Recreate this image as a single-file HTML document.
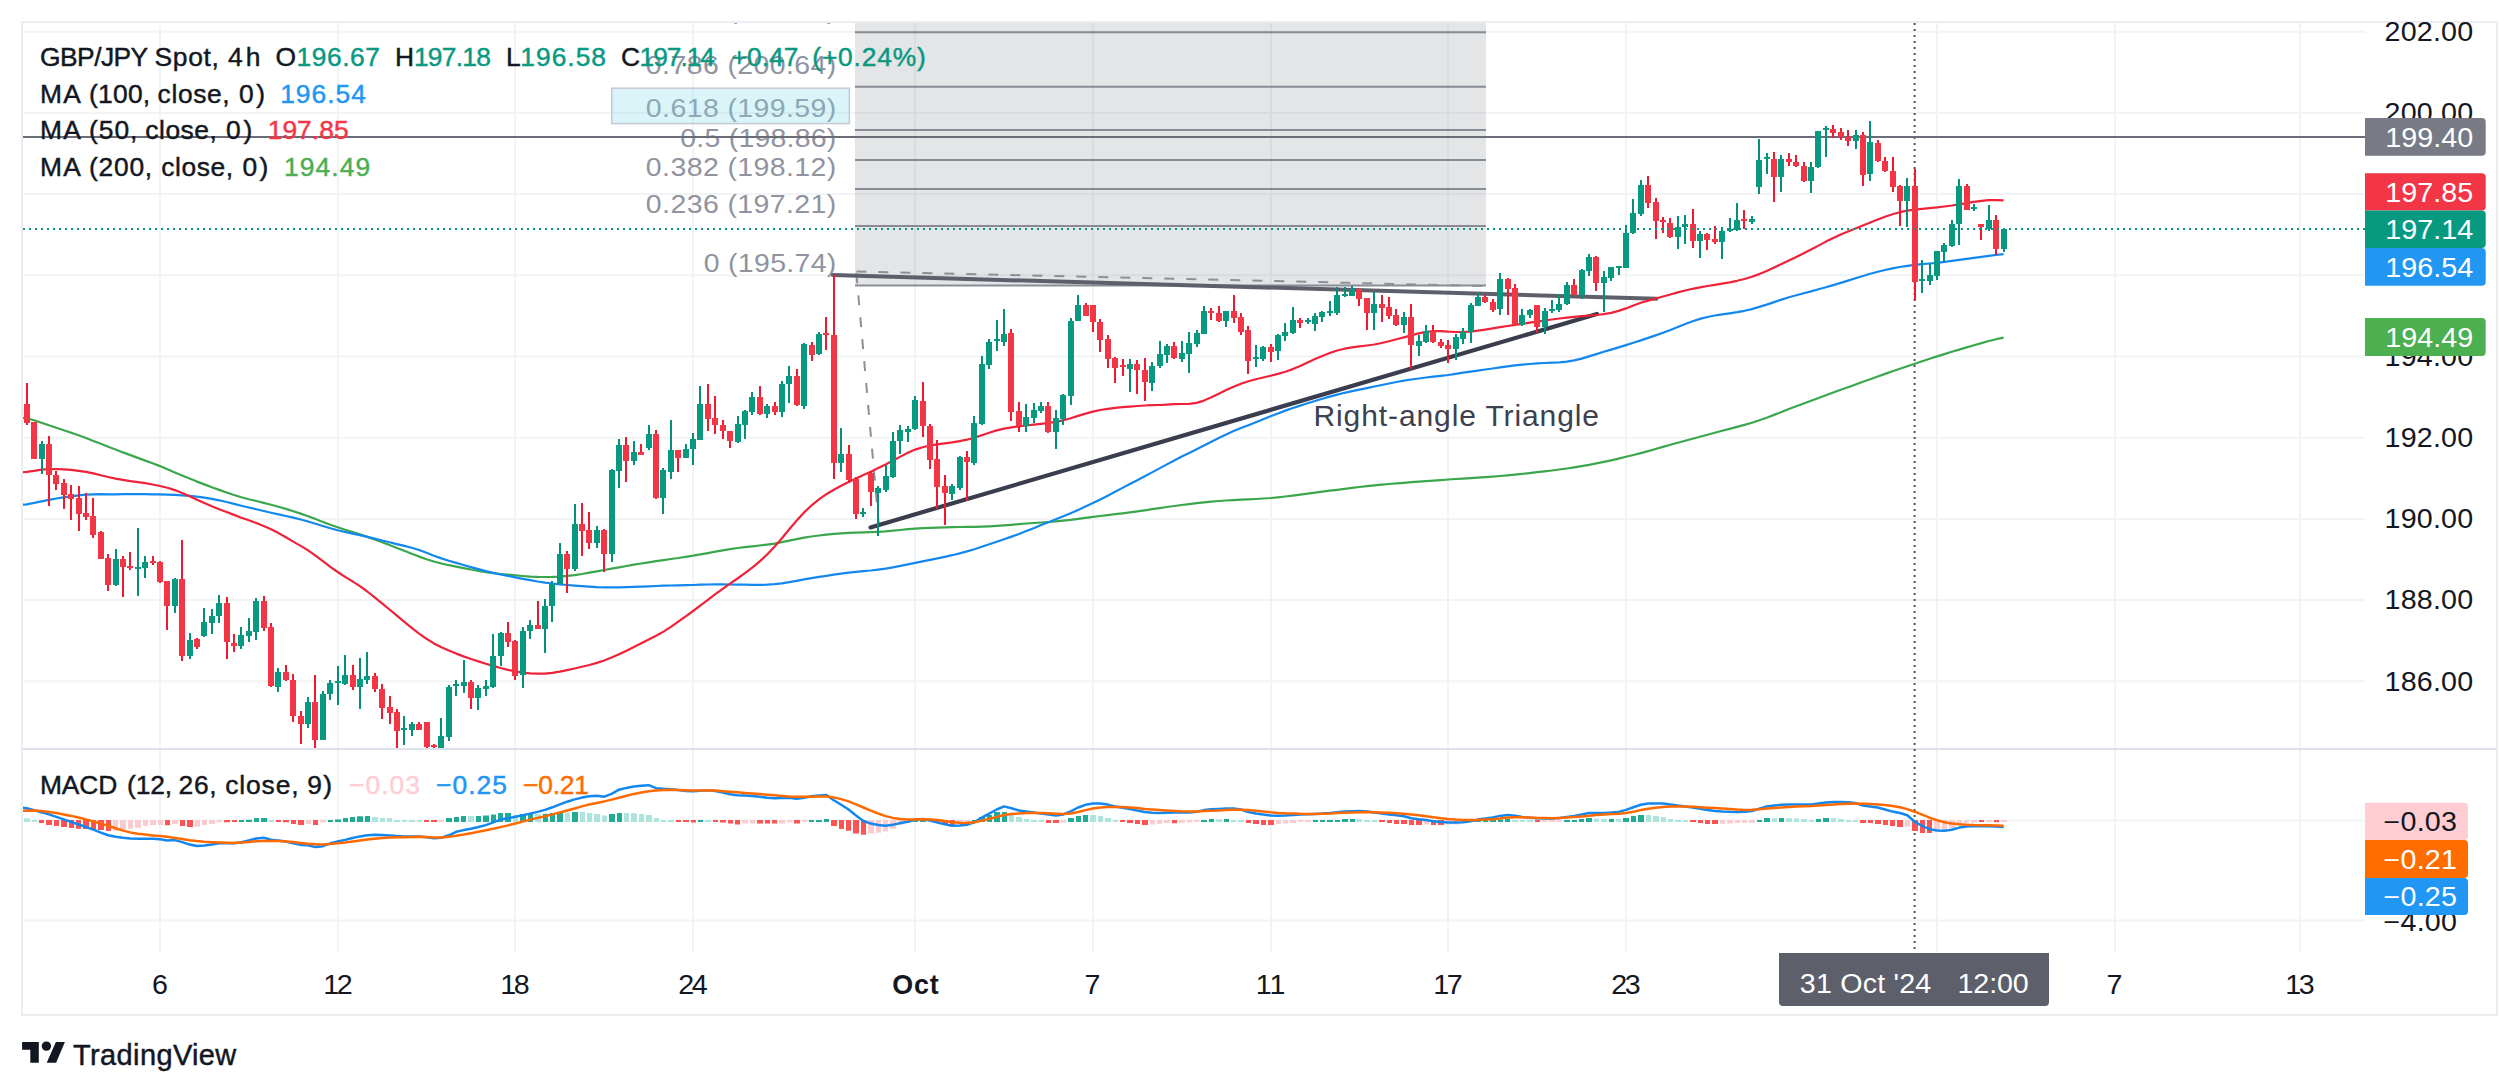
<!DOCTYPE html><html><head><meta charset="utf-8"><title>GBP/JPY 4h chart</title><style>html,body{margin:0;padding:0;background:#fff;overflow:hidden}svg{display:block}</style></head><body><svg width="2519" height="1092" viewBox="0 0 2519 1092" font-family='"Liberation Sans", Arial, sans-serif'>
<defs><clipPath id="main"><rect x="23" y="23" width="2342" height="725"/></clipPath><clipPath id="mainw"><rect x="23" y="23" width="2473" height="725"/></clipPath><clipPath id="macd"><rect x="23" y="750" width="2342" height="202"/></clipPath></defs>
<rect width="2519" height="1092" fill="#fff"/>
<path fill="#f2f3f4" d="M159.0 23h2V952h-2zM337.0 23h2V952h-2zM514.0 23h2V952h-2zM692.0 23h2V952h-2zM914.0 23h2V952h-2zM1092.0 23h2V952h-2zM1270.0 23h2V952h-2zM1447.0 23h2V952h-2zM1625.0 23h2V952h-2zM1936.0 23h2V952h-2zM2114.0 23h2V952h-2zM2299.0 23h2V952h-2zM23 30.7H2365v2H23zM23 111.9H2365v2H23zM23 193.1H2365v2H23zM23 274.3H2365v2H23zM23 355.5H2365v2H23zM23 436.7H2365v2H23zM23 517.9H2365v2H23zM23 599.1H2365v2H23zM23 680.3H2365v2H23zM23 819.6H2365v2H23zM23 919.6H2365v2H23z"/>
<path fill="#ecedf2" d="M21 21H2498V1016H21zM23 23V1014H2496V23z" fill-rule="evenodd"/>
<rect x="23" y="748" width="2473" height="2" fill="#dee1eb"/>
<path d="M1914.6 23V952" stroke="#4f525d" stroke-width="2" stroke-dasharray="2 4" fill="none"/>
<g clip-path="url(#main)">
<rect x="855" y="0" width="631" height="285.6" fill="#787b86" fill-opacity="0.2"/>
<path fill="#787b86" fill-opacity="0.85" d="M855 31.3h631v2h-631zM855 85.8h631v2h-631zM855 129.0h631v2h-631zM855 159.0h631v2h-631zM855 188.0h631v2h-631zM855 225.0h631v2h-631zM855 284.6h631v2h-631z"/>
<text transform="translate(836.3 19.0) scale(1.07 1)" font-size="26.6" fill="#9093a0" text-anchor="end" textLength="124.0" lengthAdjust="spacing">1 (201.98)</text>
<text transform="translate(836.3 73.5) scale(1.07 1)" font-size="26.6" fill="#9093a0" text-anchor="end" textLength="178.0" lengthAdjust="spacing">0.786 (200.64)</text>
<text transform="translate(836.3 116.7) scale(1.07 1)" font-size="26.6" fill="#9093a0" text-anchor="end" textLength="178.0" lengthAdjust="spacing">0.618 (199.59)</text>
<text transform="translate(836.3 146.7) scale(1.07 1)" font-size="26.6" fill="#9093a0" text-anchor="end" textLength="145.8" lengthAdjust="spacing">0.5 (198.86)</text>
<text transform="translate(836.3 175.7) scale(1.07 1)" font-size="26.6" fill="#9093a0" text-anchor="end" textLength="178.0" lengthAdjust="spacing">0.382 (198.12)</text>
<text transform="translate(836.3 212.7) scale(1.07 1)" font-size="26.6" fill="#9093a0" text-anchor="end" textLength="178.0" lengthAdjust="spacing">0.236 (197.21)</text>
<text transform="translate(836.3 272.3) scale(1.07 1)" font-size="26.6" fill="#9093a0" text-anchor="end" textLength="124.0" lengthAdjust="spacing">0 (195.74)</text>
<rect x="611.8" y="88.2" width="237.6" height="35.4" fill="rgb(132,218,232)" fill-opacity="0.3" stroke="#c3c8da" stroke-width="1.5"/>
</g>
<rect x="23" y="136" width="2342" height="2" fill="#6a6d78"/>
<g clip-path="url(#main)">
<path d="M856.4 271.4L1485.5 286M856.4 273.4L879 527" fill="none" stroke="#8c8f99" stroke-width="2" stroke-dasharray="10 12"/>
<path d="M833 275.1L1656.5 298.7" stroke="#5d606b" stroke-width="4" stroke-linecap="round"/>
<path d="M870.5 527.4L1597 314" stroke="#3a3d4d" stroke-width="4.2" stroke-linecap="round"/>
<text x="1313.5" y="425.7" font-size="30" fill="#3d404d" stroke="#3d404d" stroke-width="0" textLength="285.5" lengthAdjust="spacing">Right-angle Triangle</text>
<path d="M19.3 417.4 L26.7 418.2 L34.1 420.3 L41.5 422.7 L48.9 425.2 L56.3 427.7 L63.7 430.2 L71.2 432.7 L78.6 435.3 L86.0 438.0 L93.4 440.9 L100.8 443.8 L108.2 446.7 L115.6 449.5 L123.0 452.4 L130.4 455.1 L137.8 457.9 L145.2 460.6 L152.6 463.3 L160.0 466.1 L167.4 469.2 L174.8 472.4 L182.2 475.6 L189.6 478.6 L197.0 481.6 L204.4 484.4 L211.8 487.2 L219.2 489.9 L226.6 492.5 L234.0 495.0 L241.4 497.2 L248.8 499.2 L256.3 501.0 L263.7 502.9 L271.1 504.8 L278.5 506.8 L285.9 508.9 L293.3 511.2 L300.7 513.6 L308.1 516.2 L315.5 519.0 L322.9 521.9 L330.3 524.7 L337.7 527.3 L345.1 529.8 L352.5 532.1 L359.9 534.4 L367.3 536.9 L374.7 539.4 L382.1 542.2 L389.5 545.0 L396.9 547.9 L404.3 550.8 L411.7 553.7 L419.1 556.6 L426.5 559.2 L433.9 561.5 L441.4 563.5 L448.8 565.2 L456.2 566.6 L463.6 568.1 L471.0 569.5 L478.4 570.8 L485.8 572.1 L493.2 573.2 L500.6 574.0 L508.0 574.7 L515.4 575.4 L522.8 576.0 L530.2 576.6 L537.6 576.9 L545.0 577.0 L552.4 576.9 L559.8 576.6 L567.2 575.9 L574.6 575.1 L582.0 574.0 L589.4 572.7 L596.8 571.4 L604.2 570.0 L611.6 568.6 L619.0 567.3 L626.5 566.0 L633.9 564.7 L641.3 563.5 L648.7 562.3 L656.1 561.2 L663.5 560.1 L670.9 559.0 L678.3 558.0 L685.7 556.8 L693.1 555.7 L700.5 554.4 L707.9 553.1 L715.3 551.7 L722.7 550.4 L730.1 549.1 L737.5 548.0 L744.9 547.1 L752.3 546.3 L759.7 545.5 L767.1 544.6 L774.5 543.6 L781.9 542.2 L789.3 540.7 L796.7 539.2 L804.1 537.7 L811.6 536.5 L819.0 535.5 L826.4 534.6 L833.8 533.9 L841.2 533.3 L848.6 532.9 L856.0 532.6 L863.4 532.3 L870.8 532.1 L878.2 531.8 L885.6 531.4 L893.0 530.7 L900.4 530.0 L907.8 529.2 L915.2 528.6 L922.6 528.1 L930.0 527.8 L937.4 527.6 L944.8 527.4 L952.2 527.2 L959.6 527.0 L967.0 526.9 L974.4 526.8 L981.8 526.6 L989.2 526.3 L996.7 525.9 L1004.1 525.4 L1011.5 524.8 L1018.9 524.1 L1026.3 523.5 L1033.7 523.0 L1041.1 522.5 L1048.5 522.0 L1055.9 521.4 L1063.3 520.7 L1070.7 519.9 L1078.1 518.9 L1085.5 517.9 L1092.9 516.9 L1100.3 516.0 L1107.7 515.1 L1115.1 514.2 L1122.5 513.3 L1129.9 512.4 L1137.3 511.4 L1144.7 510.3 L1152.1 509.2 L1159.5 508.1 L1166.9 507.0 L1174.3 506.0 L1181.8 505.0 L1189.2 504.1 L1196.6 503.2 L1204.0 502.4 L1211.4 501.6 L1218.8 501.0 L1226.2 500.5 L1233.6 500.1 L1241.0 499.7 L1248.4 499.4 L1255.8 499.0 L1263.2 498.5 L1270.6 498.0 L1278.0 497.3 L1285.4 496.5 L1292.8 495.6 L1300.2 494.6 L1307.6 493.6 L1315.0 492.6 L1322.4 491.7 L1329.8 490.7 L1337.2 489.8 L1344.6 488.8 L1352.0 487.9 L1359.4 487.0 L1366.9 486.2 L1374.3 485.4 L1381.7 484.7 L1389.1 484.0 L1396.5 483.4 L1403.9 482.8 L1411.3 482.2 L1418.7 481.7 L1426.1 481.1 L1433.5 480.6 L1440.9 480.1 L1448.3 479.5 L1455.7 479.0 L1463.1 478.6 L1470.5 478.1 L1477.9 477.6 L1485.3 477.1 L1492.7 476.6 L1500.1 476.0 L1507.5 475.3 L1514.9 474.6 L1522.3 473.9 L1529.7 473.1 L1537.1 472.2 L1544.5 471.4 L1552.0 470.5 L1559.4 469.5 L1566.8 468.5 L1574.2 467.4 L1581.6 466.2 L1589.0 464.9 L1596.4 463.4 L1603.8 461.9 L1611.2 460.3 L1618.6 458.6 L1626.0 456.8 L1633.4 455.0 L1640.8 453.1 L1648.2 451.1 L1655.6 449.0 L1663.0 446.9 L1670.4 444.8 L1677.8 442.8 L1685.2 440.7 L1692.6 438.7 L1700.0 436.7 L1707.4 434.7 L1714.8 432.8 L1722.2 430.8 L1729.6 428.9 L1737.1 426.9 L1744.5 424.9 L1751.9 422.7 L1759.3 420.3 L1766.7 417.7 L1774.1 414.9 L1781.5 412.0 L1788.9 409.1 L1796.3 406.3 L1803.7 403.5 L1811.1 400.7 L1818.5 398.0 L1825.9 395.2 L1833.3 392.5 L1840.7 389.8 L1848.1 387.2 L1855.5 384.5 L1862.9 381.8 L1870.3 379.2 L1877.7 376.5 L1885.1 373.9 L1892.5 371.3 L1899.9 368.7 L1907.3 366.2 L1914.7 363.7 L1922.2 361.2 L1929.6 358.8 L1937.0 356.4 L1944.4 354.1 L1951.8 351.8 L1959.2 349.6 L1966.6 347.4 L1974.0 345.2 L1981.4 343.1 L1988.8 341.0 L1996.2 339.2 L2003.6 337.7" fill="none" stroke="#3ba74c" stroke-width="2.2" stroke-linejoin="round"/>
<path d="M19.3 504.9 L26.7 504.3 L34.1 502.9 L41.5 501.3 L48.9 499.8 L56.3 498.5 L63.7 497.3 L71.2 496.3 L78.6 495.4 L86.0 494.7 L93.4 494.3 L100.8 494.2 L108.2 494.3 L115.6 494.3 L123.0 494.2 L130.4 494.1 L137.8 494.1 L145.2 494.2 L152.6 494.3 L160.0 494.4 L167.4 494.6 L174.8 494.9 L182.2 495.4 L189.6 495.9 L197.0 496.7 L204.4 497.7 L211.8 498.9 L219.2 500.3 L226.6 502.0 L234.0 503.9 L241.4 505.7 L248.8 507.5 L256.3 509.3 L263.7 511.0 L271.1 512.7 L278.5 514.3 L285.9 516.0 L293.3 517.6 L300.7 519.5 L308.1 521.5 L315.5 523.7 L322.9 526.0 L330.3 528.3 L337.7 530.3 L345.1 532.0 L352.5 533.6 L359.9 535.2 L367.3 536.9 L374.7 538.6 L382.1 540.5 L389.5 542.3 L396.9 544.1 L404.3 545.9 L411.7 547.7 L419.1 550.0 L426.5 552.8 L433.9 555.7 L441.4 558.4 L448.8 560.7 L456.2 562.9 L463.6 565.0 L471.0 567.1 L478.4 569.1 L485.8 571.1 L493.2 572.9 L500.6 574.5 L508.0 575.9 L515.4 577.3 L522.8 578.8 L530.2 580.2 L537.6 581.5 L545.0 582.6 L552.4 583.5 L559.8 584.3 L567.2 585.0 L574.6 585.6 L582.0 586.2 L589.4 586.7 L596.8 587.1 L604.2 587.3 L611.6 587.4 L619.0 587.3 L626.5 587.1 L633.9 586.9 L641.3 586.6 L648.7 586.3 L656.1 586.0 L663.5 585.7 L670.9 585.5 L678.3 585.3 L685.7 585.2 L693.1 585.0 L700.5 584.7 L707.9 584.5 L715.3 584.4 L722.7 584.4 L730.1 584.5 L737.5 584.6 L744.9 584.7 L752.3 584.8 L759.7 584.9 L767.1 584.7 L774.5 584.2 L781.9 583.4 L789.3 582.2 L796.7 580.8 L804.1 579.4 L811.6 578.2 L819.0 576.9 L826.4 575.8 L833.8 574.7 L841.2 573.6 L848.6 572.7 L856.0 571.9 L863.4 571.2 L870.8 570.5 L878.2 569.6 L885.6 568.6 L893.0 567.3 L900.4 565.9 L907.8 564.3 L915.2 562.8 L922.6 561.3 L930.0 559.8 L937.4 558.3 L944.8 556.8 L952.2 555.2 L959.6 553.4 L967.0 551.4 L974.4 549.2 L981.8 546.8 L989.2 544.3 L996.7 541.8 L1004.1 539.2 L1011.5 536.6 L1018.9 534.0 L1026.3 531.1 L1033.7 528.2 L1041.1 525.1 L1048.5 522.2 L1055.9 519.3 L1063.3 516.3 L1070.7 513.2 L1078.1 509.9 L1085.5 506.5 L1092.9 503.0 L1100.3 499.4 L1107.7 495.7 L1115.1 491.8 L1122.5 487.9 L1129.9 484.1 L1137.3 480.2 L1144.7 476.3 L1152.1 472.4 L1159.5 468.4 L1166.9 464.4 L1174.3 460.5 L1181.8 456.6 L1189.2 452.9 L1196.6 449.2 L1204.0 445.4 L1211.4 441.7 L1218.8 438.0 L1226.2 434.4 L1233.6 431.1 L1241.0 428.1 L1248.4 425.2 L1255.8 422.3 L1263.2 419.3 L1270.6 416.3 L1278.0 413.4 L1285.4 410.6 L1292.8 408.0 L1300.2 405.6 L1307.6 403.3 L1315.0 401.0 L1322.4 398.8 L1329.8 396.6 L1337.2 394.6 L1344.6 392.8 L1352.0 391.2 L1359.4 389.6 L1366.9 388.1 L1374.3 386.5 L1381.7 385.0 L1389.1 383.5 L1396.5 382.0 L1403.9 380.7 L1411.3 379.5 L1418.7 378.5 L1426.1 377.5 L1433.5 376.7 L1440.9 375.9 L1448.3 375.0 L1455.7 373.9 L1463.1 372.7 L1470.5 371.6 L1477.9 370.6 L1485.3 369.5 L1492.7 368.5 L1500.1 367.4 L1507.5 366.4 L1514.9 365.4 L1522.3 364.6 L1529.7 364.0 L1537.1 363.4 L1544.5 363.0 L1552.0 362.7 L1559.4 362.3 L1566.8 361.6 L1574.2 360.4 L1581.6 358.6 L1589.0 356.4 L1596.4 354.1 L1603.8 351.8 L1611.2 349.6 L1618.6 347.4 L1626.0 345.1 L1633.4 342.7 L1640.8 340.4 L1648.2 337.9 L1655.6 335.4 L1663.0 332.8 L1670.4 330.0 L1677.8 327.0 L1685.2 324.0 L1692.6 321.3 L1700.0 318.9 L1707.4 317.0 L1714.8 315.5 L1722.2 314.3 L1729.6 313.3 L1737.1 312.2 L1744.5 310.8 L1751.9 309.1 L1759.3 306.9 L1766.7 304.6 L1774.1 302.1 L1781.5 299.6 L1788.9 297.3 L1796.3 295.3 L1803.7 293.3 L1811.1 291.4 L1818.5 289.3 L1825.9 287.3 L1833.3 285.1 L1840.7 282.9 L1848.1 280.6 L1855.5 278.3 L1862.9 276.0 L1870.3 273.8 L1877.7 271.8 L1885.1 270.0 L1892.5 268.4 L1899.9 267.0 L1907.3 265.8 L1914.7 264.9 L1922.2 264.2 L1929.6 263.5 L1937.0 262.8 L1944.4 261.9 L1951.8 260.9 L1959.2 259.9 L1966.6 258.8 L1974.0 257.8 L1981.4 256.8 L1988.8 255.8 L1996.2 254.8 L2003.6 254.1" fill="none" stroke="#1288ee" stroke-width="2.2" stroke-linejoin="round"/>
<path d="M19.3 472.4 L26.7 471.9 L34.1 470.8 L41.5 469.7 L48.9 469.1 L56.3 469.0 L63.7 469.3 L71.2 469.9 L78.6 470.8 L86.0 471.9 L93.4 473.4 L100.8 475.2 L108.2 477.0 L115.6 478.6 L123.0 479.9 L130.4 481.1 L137.8 482.1 L145.2 483.2 L152.6 484.5 L160.0 486.0 L167.4 487.8 L174.8 490.1 L182.2 493.0 L189.6 496.2 L197.0 499.7 L204.4 503.1 L211.8 506.3 L219.2 509.2 L226.6 512.1 L234.0 514.9 L241.4 517.7 L248.8 520.3 L256.3 523.0 L263.7 526.0 L271.1 529.3 L278.5 533.1 L285.9 537.3 L293.3 541.6 L300.7 545.9 L308.1 550.4 L315.5 555.6 L322.9 561.2 L330.3 566.8 L337.7 572.0 L345.1 576.8 L352.5 581.4 L359.9 586.2 L367.3 591.5 L374.7 597.3 L382.1 603.3 L389.5 609.5 L396.9 615.7 L404.3 621.8 L411.7 627.9 L419.1 633.6 L426.5 638.8 L433.9 643.4 L441.4 647.2 L448.8 650.6 L456.2 653.6 L463.6 656.4 L471.0 659.0 L478.4 661.4 L485.8 663.7 L493.2 665.9 L500.6 668.0 L508.0 669.9 L515.4 671.4 L522.8 672.6 L530.2 673.3 L537.6 673.7 L545.0 673.6 L552.4 672.9 L559.8 671.6 L567.2 670.1 L574.6 668.5 L582.0 666.8 L589.4 665.0 L596.8 662.9 L604.2 660.5 L611.6 657.6 L619.0 654.3 L626.5 650.7 L633.9 647.0 L641.3 643.3 L648.7 639.6 L656.1 635.8 L663.5 631.6 L670.9 626.9 L678.3 621.7 L685.7 616.4 L693.1 611.0 L700.5 605.4 L707.9 599.8 L715.3 594.2 L722.7 588.8 L730.1 583.6 L737.5 578.5 L744.9 573.2 L752.3 567.6 L759.7 561.4 L767.1 554.5 L774.5 546.7 L781.9 538.2 L789.3 529.2 L796.7 520.5 L804.1 512.4 L811.6 505.3 L819.0 499.3 L826.4 494.2 L833.8 489.8 L841.2 485.7 L848.6 482.0 L856.0 478.5 L863.4 475.1 L870.8 471.7 L878.2 468.1 L885.6 464.4 L893.0 460.6 L900.4 456.6 L907.8 452.8 L915.2 449.6 L922.6 447.2 L930.0 445.5 L937.4 444.3 L944.8 443.4 L952.2 442.4 L959.6 441.2 L967.0 439.7 L974.4 437.6 L981.8 435.2 L989.2 432.7 L996.7 430.4 L1004.1 428.6 L1011.5 427.3 L1018.9 426.3 L1026.3 425.5 L1033.7 424.7 L1041.1 423.8 L1048.5 422.9 L1055.9 421.8 L1063.3 420.3 L1070.7 418.3 L1078.1 415.9 L1085.5 413.6 L1092.9 411.6 L1100.3 410.0 L1107.7 408.8 L1115.1 407.9 L1122.5 407.2 L1129.9 406.6 L1137.3 406.0 L1144.7 405.5 L1152.1 405.2 L1159.5 405.0 L1166.9 404.6 L1174.3 404.2 L1181.8 404.0 L1189.2 403.8 L1196.6 402.9 L1204.0 400.6 L1211.4 397.3 L1218.8 393.7 L1226.2 390.1 L1233.6 386.7 L1241.0 383.7 L1248.4 381.2 L1255.8 379.2 L1263.2 377.5 L1270.6 375.8 L1278.0 373.9 L1285.4 371.7 L1292.8 369.1 L1300.2 365.9 L1307.6 362.5 L1315.0 359.1 L1322.4 355.9 L1329.8 353.0 L1337.2 350.5 L1344.6 348.7 L1352.0 347.4 L1359.4 346.4 L1366.9 345.5 L1374.3 344.5 L1381.7 343.0 L1389.1 341.2 L1396.5 339.3 L1403.9 337.4 L1411.3 335.4 L1418.7 333.4 L1426.1 331.9 L1433.5 331.1 L1440.9 331.2 L1448.3 331.7 L1455.7 332.0 L1463.1 332.0 L1470.5 331.6 L1477.9 330.7 L1485.3 329.6 L1492.7 328.4 L1500.1 327.2 L1507.5 326.0 L1514.9 324.9 L1522.3 323.8 L1529.7 322.7 L1537.1 321.6 L1544.5 320.5 L1552.0 319.5 L1559.4 318.5 L1566.8 317.6 L1574.2 316.8 L1581.6 316.2 L1589.0 315.6 L1596.4 315.0 L1603.8 314.2 L1611.2 312.9 L1618.6 310.9 L1626.0 308.4 L1633.4 305.5 L1640.8 302.8 L1648.2 300.6 L1655.6 298.5 L1663.0 296.5 L1670.4 294.5 L1677.8 292.4 L1685.2 290.5 L1692.6 288.8 L1700.0 287.3 L1707.4 286.0 L1714.8 284.8 L1722.2 283.6 L1729.6 282.3 L1737.1 280.8 L1744.5 279.0 L1751.9 276.7 L1759.3 274.1 L1766.7 271.0 L1774.1 267.6 L1781.5 264.1 L1788.9 260.5 L1796.3 256.9 L1803.7 253.2 L1811.1 249.5 L1818.5 245.6 L1825.9 241.6 L1833.3 237.9 L1840.7 234.5 L1848.1 231.4 L1855.5 228.5 L1862.9 225.5 L1870.3 222.5 L1877.7 219.6 L1885.1 216.7 L1892.5 214.2 L1899.9 212.2 L1907.3 210.7 L1914.7 209.6 L1922.2 208.8 L1929.6 208.1 L1937.0 207.4 L1944.4 206.5 L1951.8 205.5 L1959.2 204.3 L1966.6 203.1 L1974.0 201.9 L1981.4 200.8 L1988.8 200.2 L1996.2 200.1 L2003.6 200.3" fill="none" stroke="#ee2238" stroke-width="2.2" stroke-linejoin="round"/>
<path fill="#068f78" d="M41 441h2V474h-2zM115 549h2V586h-2zM137 528h2V596h-2zM144 556h2V578h-2zM174 578h2V613h-2zM189 633h2V659h-2zM203 608h2V637h-2zM211 609h2V634h-2zM218 595h2V623h-2zM240 627h2V649h-2zM248 618h2V642h-2zM255 598h2V640h-2zM277 668h2V692h-2zM307 697h2V728h-2zM322 691h2V740h-2zM329 680h2V700h-2zM337 666h2V705h-2zM344 655h2V685h-2zM359 658h2V709h-2zM366 652h2V684h-2zM403 716h2V745h-2zM411 722h2V736h-2zM440 718h2V748h-2zM448 685h2V741h-2zM455 680h2V696h-2zM463 660h2V693h-2zM477 685h2V710h-2zM485 680h2V696h-2zM492 634h2V688h-2zM500 632h2V666h-2zM522 627h2V688h-2zM529 620h2V639h-2zM544 599h2V653h-2zM551 581h2V622h-2zM559 543h2V584h-2zM574 504h2V571h-2zM596 526h2V548h-2zM611 469h2V562h-2zM618 439h2V488h-2zM633 441h2V465h-2zM648 425h2V450h-2zM662 468h2V514h-2zM670 420h2V479h-2zM685 444h2V458h-2zM692 433h2V465h-2zM699 386h2V440h-2zM737 416h2V443h-2zM744 410h2V439h-2zM751 392h2V415h-2zM766 404h2V418h-2zM781 381h2V417h-2zM788 366h2V403h-2zM803 343h2V409h-2zM818 332h2V355h-2zM840 428h2V472h-2zM862 508h2V517h-2zM877 486h2V536h-2zM885 465h2V492h-2zM892 432h2V478h-2zM899 425h2V454h-2zM907 426h2V442h-2zM914 396h2V430h-2zM951 484h2V500h-2zM959 456h2V490h-2zM973 416h2V465h-2zM981 356h2V425h-2zM988 339h2V369h-2zM996 320h2V351h-2zM1003 309h2V346h-2zM1025 404h2V432h-2zM1033 403h2V423h-2zM1040 402h2V413h-2zM1055 410h2V449h-2zM1062 394h2V425h-2zM1070 318h2V405h-2zM1077 295h2V321h-2zM1129 359h2V392h-2zM1151 362h2V391h-2zM1159 341h2V368h-2zM1166 344h2V363h-2zM1181 341h2V362h-2zM1188 332h2V373h-2zM1196 330h2V347h-2zM1203 306h2V334h-2zM1225 311h2V327h-2zM1255 345h2V367h-2zM1262 346h2V361h-2zM1277 334h2V360h-2zM1284 323h2V341h-2zM1292 307h2V334h-2zM1307 318h2V324h-2zM1314 313h2V331h-2zM1321 311h2V322h-2zM1329 301h2V316h-2zM1336 287h2V315h-2zM1344 287h2V297h-2zM1351 286h2V296h-2zM1373 292h2V330h-2zM1403 312h2V333h-2zM1418 335h2V356h-2zM1425 325h2V343h-2zM1455 334h2V360h-2zM1462 328h2V344h-2zM1470 303h2V343h-2zM1477 293h2V306h-2zM1499 273h2V315h-2zM1521 309h2V326h-2zM1529 309h2V318h-2zM1544 308h2V334h-2zM1551 300h2V313h-2zM1558 294h2V312h-2zM1566 282h2V305h-2zM1581 269h2V299h-2zM1588 254h2V276h-2zM1603 271h2V312h-2zM1610 267h2V281h-2zM1618 266h2V275h-2zM1625 225h2V268h-2zM1632 199h2V234h-2zM1640 180h2V216h-2zM1677 216h2V249h-2zM1684 215h2V244h-2zM1699 231h2V258h-2zM1721 227h2V259h-2zM1729 218h2V232h-2zM1736 203h2V231h-2zM1751 216h2V224h-2zM1758 139h2V194h-2zM1766 153h2V174h-2zM1780 155h2V192h-2zM1810 162h2V193h-2zM1817 131h2V168h-2zM1825 126h2V157h-2zM1855 130h2V149h-2zM1869 121h2V181h-2zM1906 178h2V227h-2zM1921 260h2V293h-2zM1929 264h2V285h-2zM1936 251h2V280h-2zM1943 243h2V262h-2zM1951 220h2V247h-2zM1958 179h2V245h-2zM1973 204h2V211h-2zM1988 205h2V231h-2zM2003 228h2V252h-2z"/><path fill="#ef1a32" d="M26 383h2V425h-2zM33 422h2V459h-2zM48 436h2V506h-2zM55 471h2V490h-2zM63 479h2V509h-2zM70 485h2V520h-2zM78 486h2V531h-2zM85 493h2V520h-2zM92 498h2V538h-2zM100 531h2V559h-2zM107 554h2V591h-2zM122 556h2V597h-2zM129 552h2V570h-2zM152 556h2V565h-2zM159 561h2V583h-2zM166 581h2V630h-2zM181 540h2V661h-2zM196 638h2V649h-2zM226 597h2V659h-2zM233 634h2V652h-2zM263 596h2V631h-2zM270 623h2V687h-2zM285 665h2V681h-2zM292 674h2V722h-2zM300 711h2V744h-2zM314 675h2V748h-2zM352 665h2V690h-2zM374 673h2V692h-2zM381 684h2V719h-2zM389 696h2V724h-2zM396 709h2V748h-2zM418 722h2V730h-2zM426 722h2V748h-2zM433 744h2V748h-2zM470 680h2V709h-2zM507 622h2V647h-2zM514 640h2V680h-2zM537 601h2V629h-2zM566 551h2V593h-2zM581 503h2V556h-2zM588 512h2V549h-2zM603 529h2V572h-2zM625 437h2V482h-2zM640 444h2V455h-2zM655 430h2V499h-2zM677 450h2V472h-2zM707 384h2V431h-2zM714 396h2V434h-2zM722 420h2V439h-2zM729 431h2V448h-2zM759 386h2V415h-2zM774 402h2V415h-2zM796 369h2V406h-2zM811 342h2V361h-2zM825 317h2V350h-2zM833 275h2V479h-2zM848 445h2V483h-2zM855 477h2V519h-2zM870 471h2V506h-2zM922 382h2V437h-2zM929 424h2V469h-2zM936 440h2V509h-2zM944 475h2V525h-2zM966 451h2V501h-2zM1010 329h2V421h-2zM1018 402h2V432h-2zM1047 402h2V433h-2zM1085 303h2V316h-2zM1092 305h2V332h-2zM1099 319h2V352h-2zM1107 335h2V368h-2zM1114 357h2V383h-2zM1122 359h2V376h-2zM1136 360h2V394h-2zM1144 358h2V401h-2zM1173 342h2V359h-2zM1210 308h2V320h-2zM1218 306h2V322h-2zM1233 295h2V323h-2zM1240 313h2V335h-2zM1247 326h2V374h-2zM1270 344h2V362h-2zM1299 318h2V328h-2zM1358 289h2V306h-2zM1366 298h2V330h-2zM1381 295h2V322h-2zM1388 297h2V319h-2zM1395 309h2V326h-2zM1410 304h2V369h-2zM1432 325h2V343h-2zM1440 339h2V348h-2zM1447 340h2V363h-2zM1484 295h2V303h-2zM1492 299h2V312h-2zM1507 278h2V315h-2zM1514 284h2V325h-2zM1536 305h2V333h-2zM1573 279h2V295h-2zM1595 256h2V291h-2zM1647 176h2V208h-2zM1655 198h2V239h-2zM1662 217h2V233h-2zM1669 218h2V238h-2zM1692 209h2V248h-2zM1706 233h2V250h-2zM1714 226h2V244h-2zM1743 210h2V229h-2zM1773 152h2V202h-2zM1788 153h2V166h-2zM1795 155h2V167h-2zM1803 162h2V182h-2zM1832 125h2V138h-2zM1840 128h2V140h-2zM1847 130h2V146h-2zM1862 132h2V186h-2zM1877 140h2V162h-2zM1884 157h2V172h-2zM1892 157h2V192h-2zM1899 185h2V226h-2zM1914 169h2V300h-2zM1966 184h2V210h-2zM1980 224h2V240h-2zM1995 215h2V255h-2z"/><path fill="#089981" d="M39 444h6V459h-6zM113 559h6V585h-6zM135 567h6V569h-6zM142 562h6V568h-6zM172 579h6V606h-6zM187 640h6V656h-6zM201 622h6V636h-6zM209 616h6V623h-6zM216 603h6V616h-6zM238 635h6V646h-6zM246 631h6V636h-6zM253 601h6V632h-6zM275 672h6V687h-6zM305 702h6V724h-6zM320 694h6V740h-6zM327 683h6V694h-6zM335 681h6V683h-6zM342 675h6V684h-6zM357 679h6V687h-6zM364 676h6V680h-6zM401 728h6V730h-6zM409 724h6V730h-6zM438 736h6V748h-6zM446 687h6V737h-6zM453 684h6V686h-6zM461 682h6V686h-6zM475 688h6V698h-6zM483 686h6V689h-6zM490 656h6V687h-6zM498 633h6V656h-6zM520 631h6V675h-6zM527 625h6V631h-6zM542 606h6V629h-6zM549 584h6V606h-6zM557 554h6V584h-6zM572 524h6V569h-6zM594 530h6V543h-6zM609 470h6V554h-6zM616 445h6V471h-6zM631 452h6V461h-6zM646 434h6V448h-6zM660 470h6V498h-6zM668 450h6V472h-6zM683 449h6V458h-6zM690 439h6V449h-6zM697 404h6V440h-6zM735 424h6V442h-6zM742 411h6V425h-6zM749 397h6V412h-6zM764 406h6V414h-6zM779 384h6V412h-6zM786 376h6V384h-6zM801 344h6V406h-6zM816 334h6V354h-6zM838 454h6V463h-6zM860 512h6V514h-6zM875 488h6V493h-6zM883 476h6V490h-6zM890 441h6V477h-6zM897 430h6V441h-6zM905 429h6V432h-6zM912 400h6V429h-6zM949 486h6V494h-6zM957 457h6V488h-6zM971 423h6V463h-6zM979 364h6V424h-6zM986 342h6V365h-6zM994 339h6V341h-6zM1001 334h6V342h-6zM1023 417h6V426h-6zM1031 410h6V418h-6zM1038 406h6V411h-6zM1053 418h6V432h-6zM1060 395h6V419h-6zM1068 321h6V396h-6zM1075 305h6V321h-6zM1127 364h6V369h-6zM1149 366h6V383h-6zM1157 354h6V366h-6zM1164 346h6V355h-6zM1179 353h6V359h-6zM1186 343h6V354h-6zM1194 333h6V344h-6zM1201 311h6V334h-6zM1223 311h6V321h-6zM1253 357h6V359h-6zM1260 347h6V359h-6zM1275 335h6V351h-6zM1282 332h6V336h-6zM1290 320h6V333h-6zM1305 320h6V322h-6zM1312 316h6V324h-6zM1319 312h6V317h-6zM1327 311h6V313h-6zM1334 295h6V313h-6zM1342 294h6V296h-6zM1349 289h6V296h-6zM1371 304h6V313h-6zM1401 317h6V325h-6zM1416 341h6V346h-6zM1423 331h6V342h-6zM1453 337h6V349h-6zM1460 332h6V339h-6zM1468 305h6V332h-6zM1475 297h6V306h-6zM1497 279h6V309h-6zM1519 315h6V325h-6zM1527 310h6V315h-6zM1542 311h6V327h-6zM1549 309h6V311h-6zM1556 304h6V310h-6zM1564 285h6V304h-6zM1579 270h6V295h-6zM1586 257h6V271h-6zM1601 277h6V283h-6zM1608 267h6V278h-6zM1616 266h6V268h-6zM1623 233h6V268h-6zM1630 213h6V233h-6zM1638 185h6V214h-6zM1675 227h6V237h-6zM1682 224h6V227h-6zM1697 234h6V241h-6zM1719 231h6V242h-6zM1727 229h6V231h-6zM1734 220h6V230h-6zM1749 219h6V222h-6zM1756 160h6V187h-6zM1764 157h6V159h-6zM1778 159h6V177h-6zM1808 167h6V181h-6zM1815 131h6V167h-6zM1823 128h6V130h-6zM1853 135h6V141h-6zM1867 142h6V174h-6zM1904 186h6V201h-6zM1919 279h6V281h-6zM1927 275h6V281h-6zM1934 251h6V276h-6zM1941 245h6V252h-6zM1949 224h6V246h-6zM1956 186h6V224h-6zM1971 207h6V209h-6zM1986 220h6V229h-6zM2001 229h6V249h-6z"/><path fill="#f23645" d="M24 404h6V423h-6zM31 422h6V459h-6zM46 444h6V475h-6zM53 475h6V484h-6zM61 483h6V495h-6zM68 494h6V499h-6zM76 498h6V514h-6zM83 513h6V517h-6zM90 516h6V535h-6zM98 532h6V559h-6zM105 558h6V585h-6zM120 559h6V567h-6zM127 566h6V568h-6zM150 561h6V563h-6zM157 562h6V582h-6zM164 581h6V606h-6zM179 579h6V656h-6zM194 639h6V647h-6zM224 603h6V642h-6zM231 643h6V646h-6zM261 601h6V628h-6zM268 627h6V686h-6zM283 672h6V680h-6zM290 680h6V716h-6zM298 716h6V724h-6zM312 702h6V740h-6zM350 675h6V687h-6zM372 676h6V689h-6zM379 689h6V708h-6zM387 707h6V713h-6zM394 712h6V731h-6zM416 724h6V730h-6zM424 722h6V747h-6zM431 745h6V747h-6zM468 682h6V698h-6zM505 633h6V642h-6zM512 641h6V676h-6zM535 625h6V629h-6zM564 554h6V569h-6zM579 524h6V531h-6zM586 530h6V543h-6zM601 530h6V554h-6zM623 445h6V461h-6zM638 452h6V455h-6zM653 434h6V498h-6zM675 450h6V458h-6zM705 404h6V419h-6zM712 418h6V425h-6zM720 425h6V431h-6zM727 431h6V441h-6zM757 397h6V414h-6zM772 406h6V412h-6zM794 376h6V405h-6zM809 345h6V355h-6zM823 333h6V335h-6zM831 335h6V463h-6zM846 454h6V480h-6zM853 479h6V514h-6zM868 473h6V492h-6zM920 401h6V426h-6zM927 426h6V460h-6zM934 459h6V487h-6zM942 486h6V493h-6zM964 457h6V462h-6zM1008 333h6V412h-6zM1016 411h6V426h-6zM1045 406h6V432h-6zM1083 305h6V316h-6zM1090 305h6V322h-6zM1097 322h6V340h-6zM1105 339h6V359h-6zM1112 358h6V368h-6zM1120 365h6V367h-6zM1134 364h6V370h-6zM1142 370h6V382h-6zM1171 346h6V358h-6zM1208 311h6V313h-6zM1216 313h6V321h-6zM1231 311h6V318h-6zM1238 317h6V332h-6zM1245 330h6V361h-6zM1268 347h6V352h-6zM1297 320h6V323h-6zM1356 289h6V299h-6zM1364 298h6V313h-6zM1379 304h6V308h-6zM1386 307h6V316h-6zM1393 315h6V325h-6zM1408 317h6V345h-6zM1430 331h6V342h-6zM1438 342h6V346h-6zM1445 345h6V349h-6zM1482 297h6V302h-6zM1490 302h6V310h-6zM1505 279h6V289h-6zM1512 288h6V325h-6zM1534 305h6V327h-6zM1571 285h6V295h-6zM1593 257h6V283h-6zM1645 185h6V203h-6zM1653 202h6V221h-6zM1660 220h6V222h-6zM1667 223h6V237h-6zM1690 224h6V241h-6zM1704 234h6V240h-6zM1712 239h6V242h-6zM1741 219h6V221h-6zM1771 159h6V177h-6zM1786 159h6V162h-6zM1793 162h6V166h-6zM1801 166h6V181h-6zM1830 129h6V133h-6zM1838 132h6V137h-6zM1845 137h6V141h-6zM1860 135h6V175h-6zM1875 143h6V161h-6zM1882 161h6V171h-6zM1890 171h6V187h-6zM1897 186h6V201h-6zM1912 186h6V282h-6zM1964 186h6V210h-6zM1978 224h6V227h-6zM1993 220h6V249h-6z"/>
</g>
<path d="M23 229H2365" stroke="#089981" stroke-width="2" stroke-dasharray="2 4" fill="none"/>
<g>
</g>
<g clip-path="url(#macd)">
<path fill="#22ab94" d="M239 820.0h5V822h-5zM246 819.8h6V822h-6zM254 818.0h5V822h-5zM261 818.0h6V822h-6zM328 820.0h5V822h-5zM335 819.4h6V822h-6zM343 818.0h5V822h-5zM350 817.0h5V822h-5zM357 816.3h6V822h-6zM365 815.9h5V822h-5zM446 818.0h6V822h-6zM454 817.0h5V822h-5zM461 815.9h5V822h-5zM476 815.9h5V822h-5zM483 815.5h6V822h-6zM491 814.5h5V822h-5zM498 812.9h5V822h-5zM505 812.9h6V822h-6zM520 813.9h6V822h-6zM528 813.3h5V822h-5zM543 813.7h5V822h-5zM550 812.9h5V822h-5zM557 812.3h6V822h-6zM572 811.9h6V822h-6zM609 813.9h6V822h-6zM617 812.9h5V822h-5zM698 820.0h5V822h-5zM809 820.0h5V822h-5zM816 820.0h6V822h-6zM824 819.0h5V822h-5zM913 820.0h5V822h-5zM920 820.0h6V822h-6zM972 820.0h5V822h-5zM979 817.0h6V822h-6zM987 814.9h5V822h-5zM994 811.9h6V822h-6zM1002 811.9h5V822h-5zM1068 818.0h6V822h-6zM1076 815.9h5V822h-5zM1083 814.9h5V822h-5zM1201 820.0h6V822h-6zM1209 819.0h5V822h-5zM1224 819.0h5V822h-5zM1313 820.0h5V822h-5zM1320 820.0h5V822h-5zM1327 820.0h6V822h-6zM1335 820.0h5V822h-5zM1342 819.0h6V822h-6zM1350 819.0h5V822h-5zM1475 820.0h6V822h-6zM1483 820.0h5V822h-5zM1490 820.0h6V822h-6zM1498 819.4h5V822h-5zM1505 818.6h5V822h-5zM1564 820.0h6V822h-6zM1572 820.0h5V822h-5zM1579 819.0h5V822h-5zM1586 818.0h6V822h-6zM1609 819.0h5V822h-5zM1623 818.0h6V822h-6zM1631 815.9h5V822h-5zM1638 814.9h6V822h-6zM1757 820.0h5V822h-5zM1764 818.0h6V822h-6zM1779 818.0h5V822h-5zM1816 819.0h5V822h-5zM1823 818.0h6V822h-6z"/><path fill="#ace5dc" d="M24 818.4h6V822h-6zM32 820.0h5V822h-5zM269 820.0h5V822h-5zM372 817.0h6V822h-6zM380 818.0h5V822h-5zM387 818.0h5V822h-5zM394 820.0h6V822h-6zM402 820.0h5V822h-5zM409 820.0h6V822h-6zM417 820.0h5V822h-5zM468 815.9h6V822h-6zM513 814.9h5V822h-5zM535 813.9h6V822h-6zM565 812.5h5V822h-5zM580 812.1h5V822h-5zM587 812.9h5V822h-5zM594 813.9h6V822h-6zM602 815.5h5V822h-5zM624 812.9h5V822h-5zM631 813.3h6V822h-6zM639 813.9h5V822h-5zM646 814.9h6V822h-6zM654 818.0h5V822h-5zM661 820.0h5V822h-5zM668 820.0h6V822h-6zM705 820.0h6V822h-6zM1009 814.9h5V822h-5zM1016 817.0h6V822h-6zM1024 819.0h5V822h-5zM1031 820.0h6V822h-6zM1039 820.0h5V822h-5zM1090 814.9h6V822h-6zM1098 815.9h5V822h-5zM1105 818.0h6V822h-6zM1113 820.0h5V822h-5zM1216 819.2h6V822h-6zM1231 820.0h5V822h-5zM1238 820.0h6V822h-6zM1357 819.2h5V822h-5zM1364 820.0h6V822h-6zM1372 820.0h5V822h-5zM1512 820.0h6V822h-6zM1520 820.0h5V822h-5zM1527 820.0h6V822h-6zM1594 818.4h5V822h-5zM1601 819.0h6V822h-6zM1616 819.0h5V822h-5zM1646 814.9h5V822h-5zM1653 815.9h6V822h-6zM1661 817.0h5V822h-5zM1668 819.0h5V822h-5zM1675 820.0h6V822h-6zM1683 820.0h5V822h-5zM1772 818.2h5V822h-5zM1786 818.2h6V822h-6zM1794 818.4h5V822h-5zM1801 819.0h6V822h-6zM1809 820.0h5V822h-5zM1831 818.2h5V822h-5zM1838 819.0h6V822h-6zM1846 820.0h5V822h-5zM1853 820.0h5V822h-5z"/><path fill="#ff5252" d="M39 820h5V823.0h-5zM46 820h6V825.0h-6zM54 820h5V826.1h-5zM61 820h6V827.1h-6zM69 820h5V828.1h-5zM76 820h5V828.7h-5zM83 820h6V829.1h-6zM91 820h5V829.5h-5zM98 820h6V830.1h-6zM106 820h5V831.1h-5zM165 820h5V825.3h-5zM180 820h5V826.1h-5zM187 820h6V827.1h-6zM224 820h6V822.2h-6zM232 820h5V822.0h-5zM276 820h5V822.0h-5zM283 820h6V822.2h-6zM291 820h5V824.0h-5zM298 820h6V825.0h-6zM313 820h5V825.0h-5zM424 820h5V822.0h-5zM431 820h6V822.0h-6zM676 820h5V822.0h-5zM683 820h6V822.0h-6zM691 820h5V822.6h-5zM713 820h5V822.0h-5zM720 820h6V822.6h-6zM728 820h5V823.6h-5zM735 820h5V824.6h-5zM757 820h6V823.6h-6zM765 820h5V823.6h-5zM772 820h5V823.6h-5zM794 820h6V823.6h-6zM831 820h6V826.1h-6zM839 820h5V829.1h-5zM846 820h5V830.7h-5zM853 820h6V833.6h-6zM861 820h5V834.8h-5zM935 820h5V823.0h-5zM942 820h6V824.6h-6zM950 820h5V825.0h-5zM1046 820h5V823.0h-5zM1053 820h6V823.0h-6zM1120 820h5V822.0h-5zM1127 820h6V823.0h-6zM1135 820h5V824.0h-5zM1142 820h6V825.0h-6zM1172 820h5V823.2h-5zM1246 820h5V823.0h-5zM1253 820h6V824.0h-6zM1261 820h5V825.0h-5zM1268 820h6V825.0h-6zM1379 820h6V822.0h-6zM1387 820h5V823.0h-5zM1394 820h5V824.0h-5zM1401 820h6V824.0h-6zM1409 820h5V825.0h-5zM1416 820h6V825.0h-6zM1431 820h5V825.0h-5zM1438 820h6V825.0h-6zM1535 820h5V822.0h-5zM1690 820h6V822.0h-6zM1698 820h5V823.0h-5zM1705 820h5V824.0h-5zM1712 820h6V824.0h-6zM1860 820h6V823.0h-6zM1868 820h5V823.0h-5zM1875 820h6V824.0h-6zM1883 820h5V825.0h-5zM1890 820h5V826.1h-5zM1897 820h6V827.1h-6zM1912 820h6V831.1h-6zM1920 820h5V833.1h-5zM1927 820h5V833.1h-5zM1979 820h5V822.0h-5zM1994 820h5V822.2h-5z"/><path fill="#fccbcd" d="M113 820h5V830.7h-5zM120 820h6V829.5h-6zM128 820h5V828.7h-5zM135 820h6V827.7h-6zM143 820h5V826.1h-5zM150 820h6V825.0h-6zM158 820h5V825.0h-5zM172 820h6V824.0h-6zM195 820h5V826.7h-5zM202 820h5V825.0h-5zM209 820h6V824.0h-6zM217 820h5V822.2h-5zM306 820h5V824.0h-5zM320 820h6V822.6h-6zM439 820h5V822.0h-5zM742 820h6V823.4h-6zM750 820h5V823.4h-5zM779 820h6V823.4h-6zM787 820h5V822.6h-5zM802 820h5V822.0h-5zM868 820h6V833.6h-6zM876 820h5V832.7h-5zM883 820h5V831.5h-5zM890 820h6V828.7h-6zM898 820h5V825.0h-5zM905 820h6V823.0h-6zM928 820h5V822.0h-5zM957 820h6V823.4h-6zM965 820h5V823.0h-5zM1061 820h5V822.6h-5zM1150 820h5V824.6h-5zM1157 820h5V823.8h-5zM1164 820h6V823.0h-6zM1179 820h6V822.8h-6zM1187 820h5V822.6h-5zM1194 820h5V822.0h-5zM1276 820h5V824.0h-5zM1283 820h5V823.6h-5zM1290 820h6V823.0h-6zM1298 820h5V822.0h-5zM1305 820h6V822.0h-6zM1424 820h5V824.6h-5zM1446 820h5V824.6h-5zM1453 820h6V824.4h-6zM1461 820h5V822.0h-5zM1468 820h5V822.0h-5zM1542 820h5V822.0h-5zM1549 820h6V822.0h-6zM1557 820h5V822.0h-5zM1720 820h5V823.8h-5zM1727 820h6V823.6h-6zM1735 820h5V823.0h-5zM1742 820h5V823.0h-5zM1749 820h6V822.8h-6zM1905 820h5V826.7h-5zM1934 820h6V831.1h-6zM1942 820h5V830.1h-5zM1949 820h6V828.1h-6zM1957 820h5V824.0h-5zM1964 820h5V823.0h-5zM1971 820h6V822.6h-6zM1986 820h6V822.0h-6zM2001 820h6V822.0h-6z"/>
<path d="M19.3 807.1 L26.7 808.2 L34.1 810.2 L41.5 812.2 L48.9 814.4 L56.3 816.9 L63.7 819.4 L71.2 822.0 L78.6 824.5 L86.0 827.0 L93.4 829.6 L100.8 832.6 L108.2 835.2 L115.6 836.8 L123.0 837.8 L130.4 838.5 L137.8 838.8 L145.2 838.8 L152.6 838.8 L160.0 839.2 L167.4 840.4 L174.8 840.1 L182.2 842.1 L189.6 844.6 L197.0 845.9 L204.4 845.6 L211.8 844.5 L219.2 843.3 L226.6 843.3 L234.0 843.3 L241.4 842.3 L248.8 840.5 L256.3 838.5 L263.7 837.8 L271.1 839.8 L278.5 840.5 L285.9 841.5 L293.3 843.3 L300.7 844.9 L308.1 845.3 L315.5 847.1 L322.9 846.2 L330.3 843.3 L337.7 841.5 L345.1 839.9 L352.5 838.0 L359.9 836.4 L367.3 835.3 L374.7 834.8 L382.1 835.0 L389.5 835.4 L396.9 836.0 L404.3 836.4 L411.7 836.4 L419.1 836.4 L426.5 837.3 L433.9 838.2 L441.4 837.8 L448.8 835.3 L456.2 831.8 L463.6 830.1 L471.0 828.7 L478.4 827.0 L485.8 825.1 L493.2 822.3 L500.6 819.6 L508.0 818.2 L515.4 816.7 L522.8 815.2 L530.2 813.6 L537.6 811.9 L545.0 809.9 L552.4 807.3 L559.8 804.4 L567.2 801.7 L574.6 799.4 L582.0 797.6 L589.4 796.3 L596.8 795.7 L604.2 796.7 L611.6 793.8 L619.0 789.7 L626.5 787.9 L633.9 786.6 L641.3 785.7 L648.7 785.2 L656.1 788.2 L663.5 788.8 L670.9 789.2 L678.3 790.0 L685.7 790.9 L693.1 791.3 L700.5 790.8 L707.9 790.2 L715.3 791.1 L722.7 792.6 L730.1 794.2 L737.5 795.3 L744.9 795.6 L752.3 795.9 L759.7 796.7 L767.1 797.8 L774.5 798.3 L781.9 798.0 L789.3 797.7 L796.7 798.7 L804.1 797.8 L811.6 796.3 L819.0 795.4 L826.4 794.9 L833.8 800.3 L841.2 804.8 L848.6 809.5 L856.0 815.5 L863.4 821.0 L870.8 823.6 L878.2 825.1 L885.6 825.7 L893.0 824.7 L900.4 823.1 L907.8 821.7 L915.2 819.6 L922.6 819.0 L930.0 820.6 L937.4 822.6 L944.8 824.3 L952.2 825.7 L959.6 825.4 L967.0 824.7 L974.4 822.2 L981.8 817.6 L989.2 813.6 L996.7 809.5 L1004.1 806.4 L1011.5 808.2 L1018.9 810.5 L1026.3 811.6 L1033.7 812.5 L1041.1 813.6 L1048.5 814.6 L1055.9 815.5 L1063.3 814.4 L1070.7 811.3 L1078.1 807.5 L1085.5 804.8 L1092.9 803.4 L1100.3 803.4 L1107.7 804.6 L1115.1 806.5 L1122.5 807.8 L1129.9 809.1 L1137.3 810.6 L1144.7 811.9 L1152.1 812.7 L1159.5 812.9 L1166.9 812.7 L1174.3 812.5 L1181.8 812.5 L1189.2 812.5 L1196.6 811.7 L1204.0 810.1 L1211.4 809.3 L1218.8 808.9 L1226.2 808.6 L1233.6 808.5 L1241.0 809.5 L1248.4 812.0 L1255.8 813.5 L1263.2 814.6 L1270.6 815.5 L1278.0 815.7 L1285.4 815.5 L1292.8 815.1 L1300.2 814.5 L1307.6 814.2 L1315.0 813.9 L1322.4 813.6 L1329.8 813.1 L1337.2 812.2 L1344.6 811.5 L1352.0 811.2 L1359.4 811.1 L1366.9 811.6 L1374.3 812.5 L1381.7 813.6 L1389.1 814.6 L1396.5 815.3 L1403.9 816.2 L1411.3 818.2 L1418.7 819.2 L1426.1 820.0 L1433.5 821.2 L1440.9 822.1 L1448.3 822.5 L1455.7 822.6 L1463.1 822.3 L1470.5 821.2 L1477.9 819.6 L1485.3 818.5 L1492.7 817.5 L1500.1 815.9 L1507.5 815.0 L1514.9 815.8 L1522.3 817.0 L1529.7 817.7 L1537.1 818.2 L1544.5 818.5 L1552.0 818.6 L1559.4 817.9 L1566.8 816.9 L1574.2 816.0 L1581.6 814.5 L1589.0 813.1 L1596.4 813.0 L1603.8 812.9 L1611.2 812.6 L1618.6 811.9 L1626.0 809.9 L1633.4 807.3 L1640.8 804.8 L1648.2 803.4 L1655.6 803.5 L1663.0 803.6 L1670.4 804.4 L1677.8 805.5 L1685.2 806.4 L1692.6 807.5 L1700.0 808.8 L1707.4 809.9 L1714.8 810.9 L1722.2 811.5 L1729.6 811.8 L1737.1 811.9 L1744.5 811.7 L1751.9 811.1 L1759.3 808.7 L1766.7 806.4 L1774.1 805.4 L1781.5 804.8 L1788.9 804.5 L1796.3 804.4 L1803.7 804.4 L1811.1 804.4 L1818.5 803.4 L1825.9 802.4 L1833.3 802.1 L1840.7 802.0 L1848.1 802.3 L1855.5 803.1 L1862.9 805.5 L1870.3 806.5 L1877.7 807.5 L1885.1 809.5 L1892.5 811.6 L1899.9 813.0 L1907.3 815.2 L1914.7 821.8 L1922.2 825.9 L1929.6 829.2 L1937.0 830.4 L1944.4 830.7 L1951.8 829.7 L1959.2 827.6 L1966.6 826.5 L1974.0 826.1 L1981.4 826.2 L1988.8 826.3 L1996.2 826.6 L2003.6 827.1" fill="none" stroke="#1288ee" stroke-width="2.5" stroke-linejoin="round"/>
<path d="M19.3 811.0 L26.7 810.7 L34.1 810.5 L41.5 810.9 L48.9 811.9 L56.3 813.0 L63.7 814.5 L71.2 815.9 L78.6 817.5 L86.0 819.4 L93.4 821.5 L100.8 823.6 L108.2 825.7 L115.6 828.2 L123.0 830.6 L130.4 832.4 L137.8 833.7 L145.2 834.6 L152.6 835.4 L160.0 836.1 L167.4 836.8 L174.8 837.9 L182.2 839.1 L189.6 840.2 L197.0 841.1 L204.4 841.8 L211.8 842.2 L219.2 842.5 L226.6 842.7 L234.0 842.9 L241.4 842.6 L248.8 842.0 L256.3 841.3 L263.7 840.9 L271.1 840.9 L278.5 841.1 L285.9 841.5 L293.3 842.1 L300.7 842.9 L308.1 843.7 L315.5 844.3 L322.9 844.4 L330.3 843.9 L337.7 843.2 L345.1 842.5 L352.5 841.5 L359.9 840.5 L367.3 839.6 L374.7 838.8 L382.1 838.0 L389.5 837.5 L396.9 837.3 L404.3 837.2 L411.7 837.0 L419.1 836.8 L426.5 837.1 L433.9 837.4 L441.4 837.4 L448.8 836.8 L456.2 835.8 L463.6 834.6 L471.0 833.2 L478.4 831.8 L485.8 830.3 L493.2 828.8 L500.6 827.1 L508.0 825.4 L515.4 823.5 L522.8 821.6 L530.2 819.6 L537.6 817.9 L545.0 816.2 L552.4 814.4 L559.8 812.5 L567.2 810.5 L574.6 808.5 L582.0 806.4 L589.4 804.4 L596.8 802.9 L604.2 801.4 L611.6 799.6 L619.0 797.8 L626.5 795.8 L633.9 793.9 L641.3 792.5 L648.7 791.3 L656.1 790.4 L663.5 789.9 L670.9 789.8 L678.3 789.9 L685.7 790.2 L693.1 790.6 L700.5 790.4 L707.9 790.3 L715.3 790.6 L722.7 791.2 L730.1 791.7 L737.5 792.3 L744.9 792.9 L752.3 793.5 L759.7 794.1 L767.1 794.7 L774.5 795.3 L781.9 795.9 L789.3 796.5 L796.7 796.7 L804.1 796.7 L811.6 796.7 L819.0 796.5 L826.4 796.4 L833.8 797.4 L841.2 799.1 L848.6 801.4 L856.0 804.3 L863.4 807.5 L870.8 810.6 L878.2 813.5 L885.6 816.1 L893.0 817.9 L900.4 819.1 L907.8 819.6 L915.2 819.4 L922.6 819.2 L930.0 819.5 L937.4 820.0 L944.8 821.1 L952.2 822.2 L959.6 822.8 L967.0 823.0 L974.4 822.2 L981.8 820.6 L989.2 819.0 L996.7 816.9 L1004.1 815.0 L1011.5 814.1 L1018.9 813.5 L1026.3 813.1 L1033.7 812.9 L1041.1 813.0 L1048.5 813.2 L1055.9 813.7 L1063.3 814.1 L1070.7 813.4 L1078.1 812.0 L1085.5 810.1 L1092.9 808.5 L1100.3 807.5 L1107.7 807.0 L1115.1 806.9 L1122.5 807.1 L1129.9 807.5 L1137.3 808.1 L1144.7 808.9 L1152.1 809.5 L1159.5 810.1 L1166.9 810.5 L1174.3 810.9 L1181.8 811.3 L1189.2 811.5 L1196.6 811.4 L1204.0 811.1 L1211.4 810.8 L1218.8 810.5 L1226.2 810.0 L1233.6 809.7 L1241.0 809.8 L1248.4 810.1 L1255.8 810.7 L1263.2 811.5 L1270.6 812.3 L1278.0 812.9 L1285.4 813.3 L1292.8 813.5 L1300.2 813.8 L1307.6 813.9 L1315.0 813.9 L1322.4 813.7 L1329.8 813.5 L1337.2 813.1 L1344.6 812.8 L1352.0 812.5 L1359.4 812.3 L1366.9 812.1 L1374.3 812.3 L1381.7 812.5 L1389.1 812.8 L1396.5 813.2 L1403.9 813.8 L1411.3 814.6 L1418.7 815.3 L1426.1 816.2 L1433.5 817.2 L1440.9 818.2 L1448.3 819.0 L1455.7 819.6 L1463.1 819.9 L1470.5 820.0 L1477.9 819.9 L1485.3 819.6 L1492.7 819.2 L1500.1 818.5 L1507.5 817.6 L1514.9 817.3 L1522.3 817.2 L1529.7 817.6 L1537.1 818.0 L1544.5 818.1 L1552.0 818.2 L1559.4 817.9 L1566.8 817.5 L1574.2 817.1 L1581.6 816.5 L1589.0 815.8 L1596.4 815.1 L1603.8 814.6 L1611.2 814.1 L1618.6 813.7 L1626.0 813.0 L1633.4 811.7 L1640.8 810.1 L1648.2 808.8 L1655.6 807.8 L1663.0 806.9 L1670.4 806.5 L1677.8 806.4 L1685.2 806.5 L1692.6 806.8 L1700.0 807.3 L1707.4 807.7 L1714.8 808.1 L1722.2 808.6 L1729.6 809.1 L1737.1 809.6 L1744.5 809.9 L1751.9 809.8 L1759.3 809.3 L1766.7 808.5 L1774.1 807.9 L1781.5 807.4 L1788.9 806.9 L1796.3 806.4 L1803.7 806.2 L1811.1 806.0 L1818.5 805.6 L1825.9 805.0 L1833.3 804.4 L1840.7 804.0 L1848.1 803.7 L1855.5 803.6 L1862.9 803.8 L1870.3 804.0 L1877.7 804.5 L1885.1 805.1 L1892.5 805.9 L1899.9 807.2 L1907.3 809.1 L1914.7 811.7 L1922.2 814.7 L1929.6 817.7 L1937.0 820.3 L1944.4 822.3 L1951.8 823.5 L1959.2 824.3 L1966.6 824.8 L1974.0 825.1 L1981.4 825.2 L1988.8 825.3 L1996.2 825.5 L2003.6 825.7" fill="none" stroke="#ff6a00" stroke-width="2.5" stroke-linejoin="round"/>
</g>
<text x="40.1" y="65.8" font-size="26.4" fill="#131722" stroke="#131722" stroke-width="0.45" textLength="108.1" lengthAdjust="spacing">GBP/JPY</text><text x="154.6" y="65.8" font-size="26.4" fill="#131722" stroke="#131722" stroke-width="0.45" textLength="64.2" lengthAdjust="spacing">Spot,</text><text x="228.1" y="65.8" font-size="26.4" fill="#131722" stroke="#131722" stroke-width="0.45" textLength="32.4" lengthAdjust="spacing">4h</text>
<text x="275.5" y="65.8" font-size="26.4" fill="#131722" stroke="#131722" stroke-width="0.45">O</text>
<text x="296.5" y="65.8" font-size="26.4" fill="#089981" stroke="#089981" stroke-width="0.45" textLength="83.5" lengthAdjust="spacing">196.67</text>
<text x="395" y="65.8" font-size="26.4" fill="#131722" stroke="#131722" stroke-width="0.45">H</text>
<text x="413.9" y="65.8" font-size="26.4" fill="#089981" stroke="#089981" stroke-width="0.45" textLength="77" lengthAdjust="spacing">197.18</text>
<text x="506" y="65.8" font-size="26.4" fill="#131722" stroke="#131722" stroke-width="0.45">L</text>
<text x="520.3" y="65.8" font-size="26.4" fill="#089981" stroke="#089981" stroke-width="0.45" textLength="85.7" lengthAdjust="spacing">196.58</text>
<text x="621" y="65.8" font-size="26.4" fill="#131722" stroke="#131722" stroke-width="0.45">C</text>
<text x="639.5" y="65.8" font-size="26.4" fill="#089981" stroke="#089981" stroke-width="0.45" textLength="75.5" lengthAdjust="spacing">197.14</text>
<text x="731.5" y="65.8" font-size="26.4" fill="#089981" stroke="#089981" stroke-width="0.45" textLength="67" lengthAdjust="spacing">+0.47</text>
<text x="812.3" y="65.8" font-size="26.4" fill="#089981" stroke="#089981" stroke-width="0.45" textLength="113.5" lengthAdjust="spacing">(+0.24%)</text>
<text x="40.1" y="102.8" font-size="26.4" fill="#131722" stroke="#131722" stroke-width="0.45" textLength="40.7" lengthAdjust="spacing">MA</text><text x="89.1" y="102.8" font-size="26.4" fill="#131722" stroke="#131722" stroke-width="0.45" textLength="61.1" lengthAdjust="spacing">(100,</text><text x="157.6" y="102.8" font-size="26.4" fill="#131722" stroke="#131722" stroke-width="0.45" textLength="72.1" lengthAdjust="spacing">close,</text><text x="239.0" y="102.8" font-size="26.4" fill="#131722" stroke="#131722" stroke-width="0.45" textLength="26.0" lengthAdjust="spacing">0)</text>
<text x="280.2" y="102.8" font-size="26.4" fill="#2196f3" stroke="#2196f3" stroke-width="0.45" textLength="85.7" lengthAdjust="spacing">196.54</text>
<text x="40.1" y="139.2" font-size="26.4" fill="#131722" stroke="#131722" stroke-width="0.45" textLength="40.7" lengthAdjust="spacing">MA</text><text x="89.1" y="139.2" font-size="26.4" fill="#131722" stroke="#131722" stroke-width="0.45" textLength="48.3" lengthAdjust="spacing">(50,</text><text x="145.3" y="139.2" font-size="26.4" fill="#131722" stroke="#131722" stroke-width="0.45" textLength="71.5" lengthAdjust="spacing">close,</text><text x="226.1" y="139.2" font-size="26.4" fill="#131722" stroke="#131722" stroke-width="0.45" textLength="26.1" lengthAdjust="spacing">0)</text>
<text x="267.7" y="139.2" font-size="26.4" fill="#f23645" stroke="#f23645" stroke-width="0.45" textLength="80.9" lengthAdjust="spacing">197.85</text>
<text x="40.1" y="176.3" font-size="26.4" fill="#131722" stroke="#131722" stroke-width="0.45" textLength="40.7" lengthAdjust="spacing">MA</text><text x="89.1" y="176.3" font-size="26.4" fill="#131722" stroke="#131722" stroke-width="0.45" textLength="63.1" lengthAdjust="spacing">(200,</text><text x="161.2" y="176.3" font-size="26.4" fill="#131722" stroke="#131722" stroke-width="0.45" textLength="72.0" lengthAdjust="spacing">close,</text><text x="242.6" y="176.3" font-size="26.4" fill="#131722" stroke="#131722" stroke-width="0.45" textLength="25.8" lengthAdjust="spacing">0)</text>
<text x="283.9" y="176.3" font-size="26.4" fill="#4caf50" stroke="#4caf50" stroke-width="0.45" textLength="86.2" lengthAdjust="spacing">194.49</text>
<text x="39.9" y="793.9" font-size="26.4" fill="#131722" stroke="#131722" stroke-width="0.45" textLength="77.5" lengthAdjust="spacing">MACD</text><text x="127.0" y="793.9" font-size="26.4" fill="#131722" stroke="#131722" stroke-width="0.45" textLength="45.1" lengthAdjust="spacing">(12,</text><text x="178.6" y="793.9" font-size="26.4" fill="#131722" stroke="#131722" stroke-width="0.45" textLength="38.0" lengthAdjust="spacing">26,</text><text x="225.2" y="793.9" font-size="26.4" fill="#131722" stroke="#131722" stroke-width="0.45" textLength="73.4" lengthAdjust="spacing">close,</text><text x="307.2" y="793.9" font-size="26.4" fill="#131722" stroke="#131722" stroke-width="0.45" textLength="24.9" lengthAdjust="spacing">9)</text>
<text x="349" y="793.9" font-size="26.4" fill="#ffcdd2" stroke="#ffcdd2" stroke-width="0.45" textLength="71" lengthAdjust="spacing">−0.03</text>
<text x="436" y="793.9" font-size="26.4" fill="#2196f3" stroke="#2196f3" stroke-width="0.45" textLength="71" lengthAdjust="spacing">−0.25</text>
<text x="523" y="793.9" font-size="26.4" fill="#ff6d00" stroke="#ff6d00" stroke-width="0.45" textLength="66" lengthAdjust="spacing">−0.21</text>
<text transform="translate(2384.6 41.0) scale(1.07 1)" font-size="26.8" fill="#131722" textLength="82.7" lengthAdjust="spacing">202.00</text>
<text transform="translate(2384.6 122.2) scale(1.07 1)" font-size="26.8" fill="#131722" textLength="82.7" lengthAdjust="spacing">200.00</text>
<text transform="translate(2384.6 203.4) scale(1.07 1)" font-size="26.8" fill="#131722" textLength="82.7" lengthAdjust="spacing">198.00</text>
<text transform="translate(2384.6 284.6) scale(1.07 1)" font-size="26.8" fill="#131722" textLength="82.7" lengthAdjust="spacing">196.00</text>
<text transform="translate(2384.6 365.8) scale(1.07 1)" font-size="26.8" fill="#131722" textLength="82.7" lengthAdjust="spacing">194.00</text>
<text transform="translate(2384.6 447.0) scale(1.07 1)" font-size="26.8" fill="#131722" textLength="82.7" lengthAdjust="spacing">192.00</text>
<text transform="translate(2384.6 528.2) scale(1.07 1)" font-size="26.8" fill="#131722" textLength="82.7" lengthAdjust="spacing">190.00</text>
<text transform="translate(2384.6 609.4) scale(1.07 1)" font-size="26.8" fill="#131722" textLength="82.7" lengthAdjust="spacing">188.00</text>
<text transform="translate(2384.6 690.6) scale(1.07 1)" font-size="26.8" fill="#131722" textLength="82.7" lengthAdjust="spacing">186.00</text>
<text transform="translate(2383.5 931.4) scale(1.07 1)" font-size="26.8" fill="#131722" textLength="68.7" lengthAdjust="spacing">−4.00</text>
<path fill="#787b86" d="M2365 118H2481.7a4 4 0 0 1 4 4V151.7a4 4 0 0 1 -4 4H2365z"/>
<text transform="translate(2385.3 146.7) scale(1.07 1)" font-size="26.8" fill="#fff" textLength="82.2" lengthAdjust="spacing">199.40</text>
<path fill="#f23645" d="M2365 173.3H2481.7a4 4 0 0 1 4 4V206.6a4 4 0 0 1 -4 4H2365z"/>
<text transform="translate(2385.3 201.8) scale(1.07 1)" font-size="26.8" fill="#fff" textLength="82.2" lengthAdjust="spacing">197.85</text>
<path fill="#089981" d="M2365 210.6H2481.7a4 4 0 0 1 4 4V244a4 4 0 0 1 -4 4H2365z"/>
<text transform="translate(2385.3 239.1) scale(1.07 1)" font-size="26.8" fill="#fff" textLength="82.2" lengthAdjust="spacing">197.14</text>
<path fill="#2196f3" d="M2365 248H2481.7a4 4 0 0 1 4 4V281.7a4 4 0 0 1 -4 4H2365z"/>
<text transform="translate(2385.3 276.7) scale(1.07 1)" font-size="26.8" fill="#fff" textLength="82.2" lengthAdjust="spacing">196.54</text>
<path fill="#4caf50" d="M2365 318H2481.7a4 4 0 0 1 4 4V352a4 4 0 0 1 -4 4H2365z"/>
<text transform="translate(2385.3 346.8) scale(1.07 1)" font-size="26.8" fill="#fff" textLength="82.2" lengthAdjust="spacing">194.49</text>
<path fill="#ffcdd2" d="M2365 802.7H2464a4 4 0 0 1 4 4V836a4 4 0 0 1 -4 4H2365z"/>
<text transform="translate(2383.5 831.0) scale(1.07 1)" font-size="26.8" fill="#131722" textLength="68.7" lengthAdjust="spacing">−0.03</text>
<path fill="#ff6d00" d="M2365 840H2464a4 4 0 0 1 4 4V874a4 4 0 0 1 -4 4H2365z"/>
<text transform="translate(2383.5 868.6) scale(1.07 1)" font-size="26.8" fill="#fff" textLength="68.7" lengthAdjust="spacing">−0.21</text>
<path fill="#2196f3" d="M2365 878H2464a4 4 0 0 1 4 4V911a4 4 0 0 1 -4 4H2365z"/>
<text transform="translate(2383.5 906.1) scale(1.07 1)" font-size="26.8" fill="#fff" textLength="68.7" lengthAdjust="spacing">−0.25</text>
<text transform="translate(160 994) scale(1.07 1)" font-size="26.8" fill="#131722" text-anchor="middle">6</text>
<text transform="translate(338 994) scale(1.07 1)" font-size="26.8" fill="#131722" text-anchor="middle" textLength="27.7" lengthAdjust="spacing">12</text>
<text transform="translate(515 994) scale(1.07 1)" font-size="26.8" fill="#131722" text-anchor="middle" textLength="27.7" lengthAdjust="spacing">18</text>
<text transform="translate(693 994) scale(1.07 1)" font-size="26.8" fill="#131722" text-anchor="middle" textLength="27.7" lengthAdjust="spacing">24</text>
<text transform="translate(1092.6 994) scale(1.07 1)" font-size="26.8" fill="#131722" text-anchor="middle">7</text>
<text transform="translate(1270.6 994) scale(1.07 1)" font-size="26.8" fill="#131722" text-anchor="middle" textLength="27.7" lengthAdjust="spacing">11</text>
<text transform="translate(1448 994) scale(1.07 1)" font-size="26.8" fill="#131722" text-anchor="middle" textLength="27.7" lengthAdjust="spacing">17</text>
<text transform="translate(1626 994) scale(1.07 1)" font-size="26.8" fill="#131722" text-anchor="middle" textLength="27.7" lengthAdjust="spacing">23</text>
<text transform="translate(2114.5 994) scale(1.07 1)" font-size="26.8" fill="#131722" text-anchor="middle">7</text>
<text transform="translate(2300 994) scale(1.07 1)" font-size="26.8" fill="#131722" text-anchor="middle" textLength="27.7" lengthAdjust="spacing">13</text>
<text x="915.5" y="994" font-size="26.8" fill="#131722" stroke="#131722" stroke-width="0" text-anchor="middle" textLength="46.3" lengthAdjust="spacing" font-weight="bold">Oct</text>
<path fill="#5d606b" d="M1779 953H2049V1002a4 4 0 0 1 -4 4H1783a4 4 0 0 1 -4 -4z"/>
<text transform="translate(1799.8 993.3) scale(1.07 1)" font-size="26.8" fill="#fff" textLength="122.9" lengthAdjust="spacing">31 Oct '24</text>
<text transform="translate(1957.6 993.3) scale(1.07 1)" font-size="26.8" fill="#fff" textLength="66.4" lengthAdjust="spacing">12:00</text>
<path fill="#131722" d="M22.1 1042.1H38.8V1062.7H30.3V1049.8H22.1zM55.9 1042.1H64.9L56.1 1062.7H46.7z"/><circle cx="46.4" cy="1046.1" r="4.7" fill="#131722"/>
<text x="73.1" y="1064.7" font-size="29" fill="#131722" stroke="#131722" stroke-width="0.45" textLength="163.2" lengthAdjust="spacing">TradingView</text>
</svg></body></html>
